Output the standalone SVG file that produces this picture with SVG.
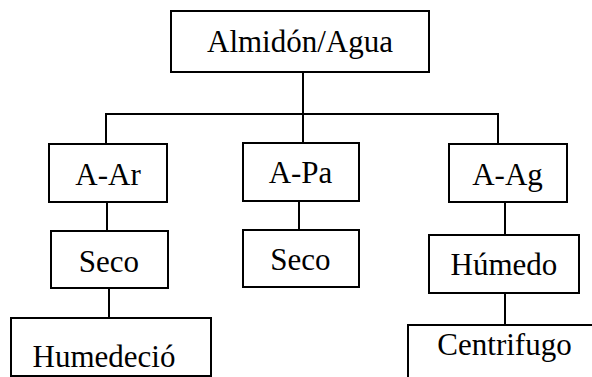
<svg xmlns="http://www.w3.org/2000/svg" width="592" height="377" viewBox="0 0 592 377" font-family="Liberation Serif, Times New Roman, serif">
<style>
.box{fill:#fff;stroke:#000;stroke-width:2}
text{font-family:"Liberation Serif",serif;font-size:31px;fill:#000;text-anchor:middle}
.con{stroke:#000;stroke-width:2;fill:none}
</style>
<rect width="592" height="377" fill="#fff"/>
<g id="connectors">
<line class="con" x1="303" y1="72" x2="303" y2="114"/>
<line class="con" x1="105" y1="114" x2="499" y2="114"/>
<line class="con" x1="106" y1="114" x2="106" y2="144"/>
<line class="con" x1="303" y1="114" x2="303" y2="143"/>
<line class="con" x1="498" y1="114" x2="498" y2="144"/>
<line class="con" x1="107" y1="202" x2="107" y2="231"/>
<line class="con" x1="299" y1="201" x2="299" y2="230"/>
<line class="con" x1="505" y1="202" x2="505" y2="235"/>
<line class="con" x1="109" y1="288" x2="109" y2="318"/>
<line class="con" x1="505" y1="293" x2="505" y2="325"/>
</g>
<g id="root">
<rect class="box" x="171" y="11" width="258" height="61"/>
<text x="300" y="52" style="font-family:'Liberation Serif',serif">Almidón/Agua</text>
</g>
<g id="aar">
<rect class="box" x="49" y="144" width="118" height="58"/>
<text x="108" y="185">A-Ar</text>
</g>
<g id="apa">
<rect class="box" x="243" y="143" width="116" height="58"/>
<text x="300.5" y="183">A-Pa</text>
</g>
<g id="aag">
<rect class="box" x="449" y="144" width="118" height="58"/>
<text x="507.5" y="185">A-Ag</text>
</g>
<g id="seco1">
<rect class="box" x="51" y="231" width="117" height="57"/>
<text x="109" y="272">Seco</text>
</g>
<g id="seco2">
<rect class="box" x="243" y="230" width="116" height="57"/>
<text x="300.5" y="270">Seco</text>
</g>
<g id="humedo">
<rect class="box" x="429" y="235" width="150" height="58"/>
<text x="504" y="275">Húmedo</text>
</g>
<g id="humedecio">
<rect class="box" x="11" y="318" width="200" height="58"/>
<text x="104" y="367">Humedeció</text>
</g>
<g id="centrifugo">
<rect class="box" x="408" y="325" width="200" height="70"/>
<text x="504.5" y="355">Centrifugo</text>
</g>
</svg>
